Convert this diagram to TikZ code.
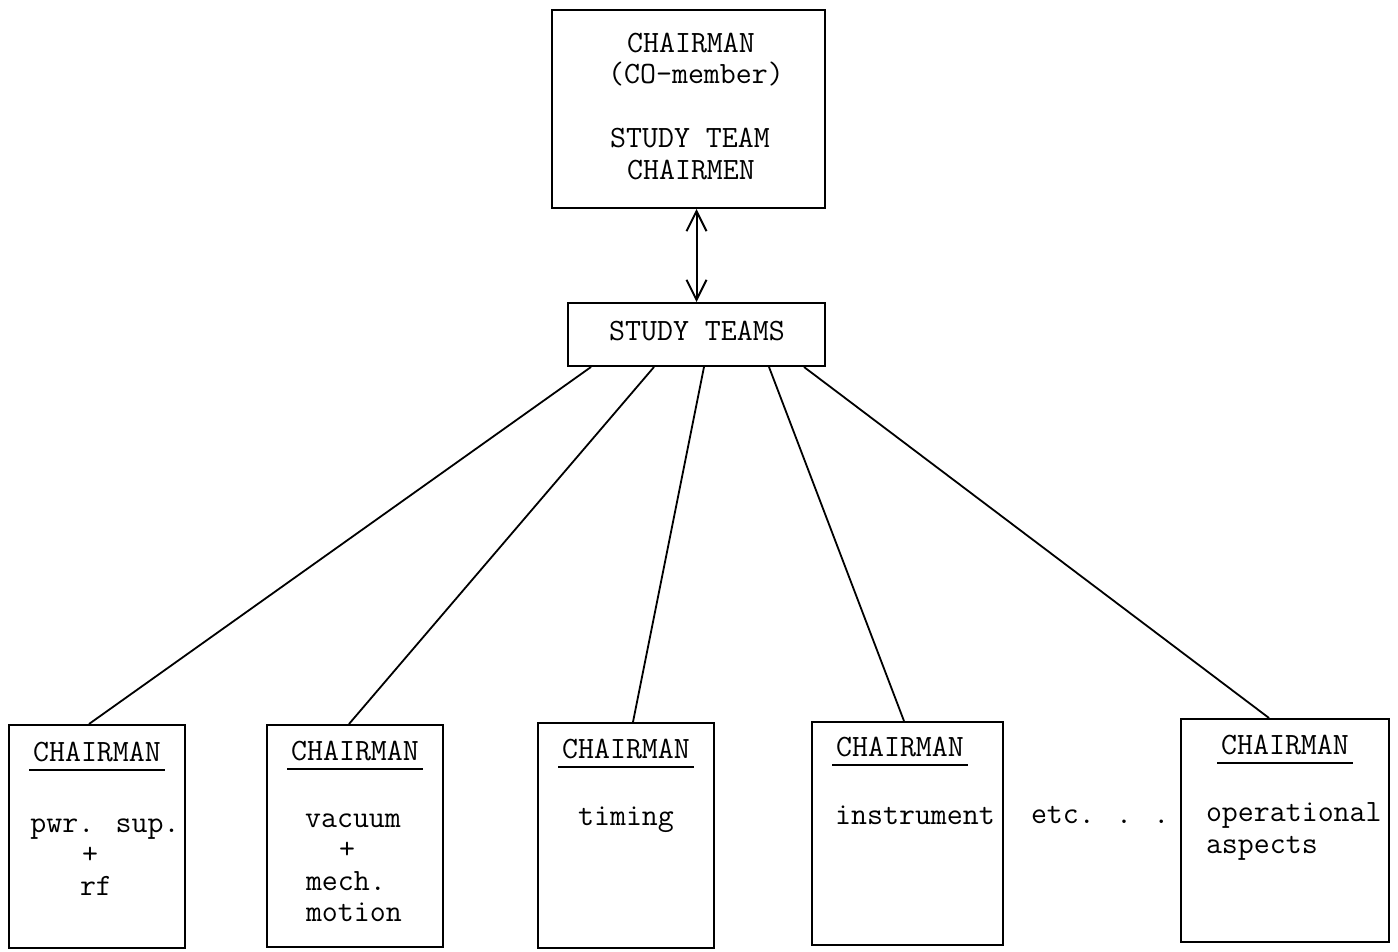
\documentclass[tikz,border=0pt]{standalone}
\usetikzlibrary{arrows.meta}
\begin{document}
\begin{tikzpicture}[x=0.5pt,y=-0.5pt,
  line width=1pt,
  boxnode/.style={draw,rectangle,inner sep=0pt},
  txt/.style={inner sep=0pt,anchor=base,font=\fontsize{15.5}{18}\selectfont\ttfamily},
  txtl/.style={txt,anchor=base west},
  link/.style={line width=0.9pt},
  uline/.style={line width=0.8pt},
  tip/.style={{Straight Barb[length=10pt,width=10pt]}-{Straight Barb[length=10pt,width=10pt]}}
]
\useasboundingbox (0,0) rectangle (1398,952);

% boxes
\node[boxnode,minimum width=136.5pt,minimum height=99pt] (top) at (688.5,109) {};
\node[boxnode,minimum width=128.5pt,minimum height=31.5pt] (st) at (696.5,334.5) {};
\node[boxnode,minimum width=88pt,minimum height=111.5pt] (b1) at (97,836.5) {};
\node[boxnode,minimum width=88pt,minimum height=111pt] (b2) at (355,836) {};
\node[boxnode,minimum width=88pt,minimum height=112.5pt] (b3) at (626,835.5) {};
\node[boxnode,minimum width=95.5pt,minimum height=111.5pt] (b4) at (907.5,833.5) {};
\node[boxnode,minimum width=104pt,minimum height=111.5pt] (b5) at (1285,830.5) {};

% top box text
\node[txt] (t1) at (691,53) {CHAIRMAN};
\node[txt] (t2) at (696,84) {(CO-member)};
\node[txt] (t3) at (690,148) {STUDY TEAM};
\node[txt] (t4) at (691,180) {CHAIRMEN};
\node[txt] (st1) at (697,341) {STUDY TEAMS};

% bottom texts
\node[txt] (c1) at (97,761) {CHAIRMAN};
\node[txt] (a1) at (105,832) {pwr. sup.};
\node[txt] (a2) at (90,863) {+};
\node[txt] (a3) at (96,895) {rf};

\node[txt] (c2) at (355,760) {CHAIRMAN};
\node[txt] (v1) at (353,827) {vacuum};
\node[txt] (v2) at (347,858) {+};
\node[txtl] (v3) at (305,890) {mech.};
\node[txtl] (v4) at (305,921) {motion};

\node[txt] (c3) at (626,758) {CHAIRMAN};
\node[txt] (ti) at (626,825) {timing};

\node[txt] (c4) at (900,756) {CHAIRMAN};
\node[txt] (in) at (915,824) {instrument};

\node[txtl] (etc) at (1030,823) {etc. . .};

\node[txt] (c5) at (1285,754) {CHAIRMAN};
\node[txtl] (o1) at (1205,821) {operational};
\node[txtl] (o2) at (1205,853) {aspects};

% underlines
\foreach \c in {c1,c2,c3,c4,c5}
  \draw[uline] ([xshift=-1.5pt,yshift=-4.5pt]\c.base west) -- ([xshift=1.5pt,yshift=-4.5pt]\c.base east);

% connectors
\draw[tip] (st.north |- top.south) -- (st.north);
\draw[link] ([xshift=12pt]st.south west) -- ([xshift=40.5pt]b1.north west);
\draw[link] ([xshift=43.5pt]st.south west) -- ([xshift=41.5pt]b2.north west);
\draw[link] ([xshift=68.5pt]st.south west) -- ([xshift=48pt]b3.north west);
\draw[link] ([xshift=101pt]st.south west) -- ([xshift=46.5pt]b4.north west);
\draw[link] ([xshift=118.5pt]st.south west) -- ([xshift=44.5pt]b5.north west);
\end{tikzpicture}
\end{document}
